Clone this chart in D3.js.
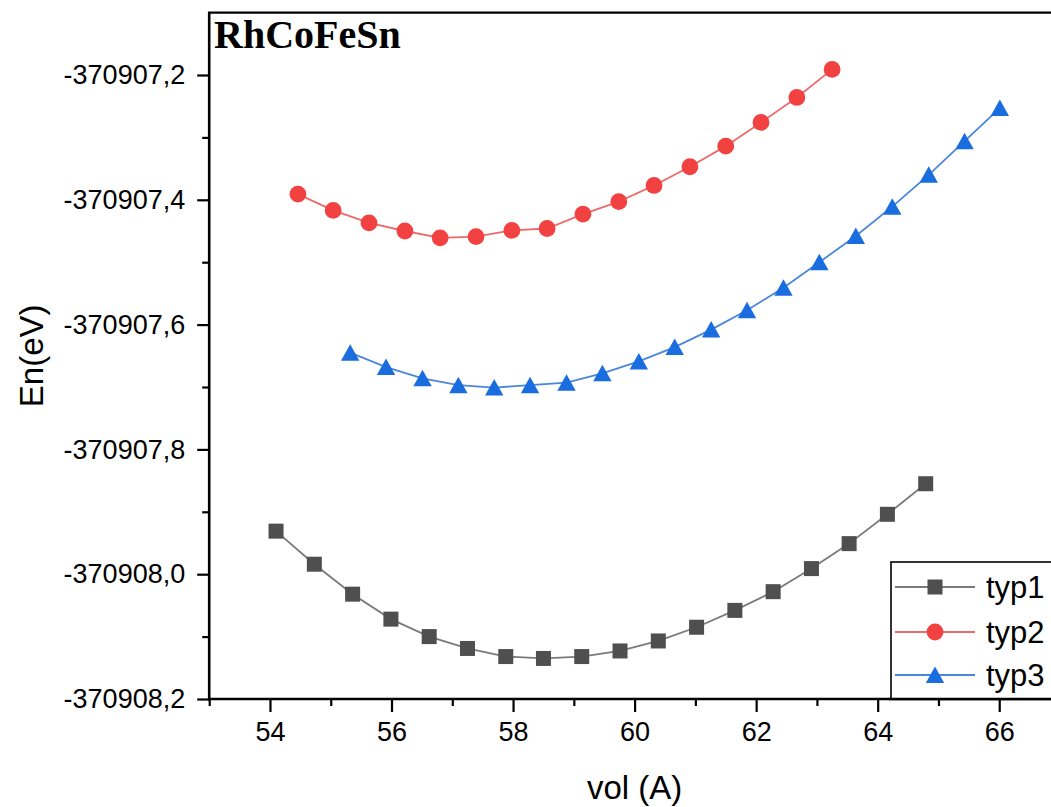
<!DOCTYPE html>
<html>
<head>
<meta charset="utf-8">
<script src="https://cdn.jsdelivr.net/npm/d3@7"></script>
<style>
  html, body { margin: 0; padding: 0; background: #fff; }
  svg { display: block; }
</style>
</head>
<body>
<svg id="chart" width="1051" height="807"></svg>
<script>
// ---------------- data ----------------
const seriesNames = ["typ1", "typ2", "typ3"];

const typ1Vol = [54.10, 54.73, 55.36, 55.99, 56.62, 57.25, 57.88, 58.50, 59.13, 59.76, 60.39, 61.02, 61.65, 62.28, 62.91, 63.53, 64.16, 64.79];
const typ1En  = [-370907.931, -370907.984, -370908.032, -370908.072, -370908.100, -370908.119, -370908.132, -370908.135, -370908.132,
                 -370908.123, -370908.107, -370908.085, -370908.058, -370908.028, -370907.991, -370907.951, -370907.904, -370907.855];

const typ2Vol = [54.46, 55.04, 55.63, 56.22, 56.80, 57.39, 57.98, 58.56, 59.15, 59.74, 60.32, 60.91, 61.50, 62.08, 62.67, 63.25];
const typ2En  = [-370907.391, -370907.417, -370907.437, -370907.450, -370907.461, -370907.459, -370907.449, -370907.446,
                 -370907.423, -370907.403, -370907.377, -370907.347, -370907.314, -370907.276, -370907.236, -370907.191];

const typ3Vol = [55.32, 55.91, 56.51, 57.10, 57.69, 58.28, 58.88, 59.47, 60.07, 60.66, 61.26, 61.85, 62.45, 63.04, 63.64, 64.24, 64.84, 65.43, 66.01];
const typ3En  = [-370907.645, -370907.668, -370907.686, -370907.697, -370907.701, -370907.697, -370907.693, -370907.678,
                 -370907.659, -370907.636, -370907.608, -370907.577, -370907.541, -370907.500, -370907.458, -370907.411,
                 -370907.360, -370907.306, -370907.253];

const xMajorTicks = [54, 56, 58, 60, 62, 64, 66];
const xMinorTicks = [53, 55, 57, 59, 61, 63, 65, 67];
const yMajorTicks = [-370908.2, -370908.0, -370907.8, -370907.6, -370907.4, -370907.2];
const yMinorTicks = [-370908.1, -370907.9, -370907.7, -370907.5, -370907.3];

const chartTitle = "RhCoFeSn";
const xTitle = "vol (A)";
const yTitle = "En(eV)";

// ---------------- layout / style ----------------
const colors = { typ1: "#4f4f4f", typ2: "#f24141", typ3: "#1a6ddf" };
const lineColors = { typ1: "#7a7a7a", typ2: "#ec6a6a", typ3: "#4a87dc" };
const symbols = { typ1: "square", typ2: "circle", typ3: "triangle" };

const pLeft = 209.2, pRight = 1060, pTop = 12.6, pBottom = 699;

const svg = d3.select("#chart");
const x = d3.scaleLinear().domain([53, 67]).range([pLeft, pRight]);
const y = d3.scaleLinear().domain([-370908.2, -370907.1]).range([pBottom, pTop]);

const locale = d3.formatLocale({ decimal: ",", thousands: "", grouping: [3], currency: ["", ""], minus: "-" });
const fmtY = locale.format(".1f");

const font = "'Liberation Sans', Arial, Helvetica, sans-serif";

// ---------------- axes ----------------
function styleAxis(g, fs) {
  g.select(".domain").remove();
  g.selectAll("line").attr("stroke", "#000").attr("stroke-width", 2.2);
  g.selectAll("text").attr("fill", "#000").style("font-family", font).style("font-size", fs + "px");
}

// x minor
svg.append("g").attr("transform", `translate(0,${pBottom})`)
  .call(d3.axisBottom(x).tickValues(xMinorTicks).tickSize(7).tickSizeOuter(0).tickFormat(""))
  .call(g => styleAxis(g, 27));
// x major
svg.append("g").attr("transform", `translate(0,${pBottom})`)
  .call(d3.axisBottom(x).tickValues(xMajorTicks).tickSize(13).tickSizeOuter(0).tickPadding(10).tickFormat(d3.format("d")))
  .call(g => styleAxis(g, 27));
// y minor
svg.append("g").attr("transform", `translate(${pLeft},0)`)
  .call(d3.axisLeft(y).tickValues(yMinorTicks).tickSize(7).tickSizeOuter(0).tickFormat(""))
  .call(g => styleAxis(g, 27));
// y major
svg.append("g").attr("transform", `translate(${pLeft},0)`)
  .call(d3.axisLeft(y).tickValues(yMajorTicks).tickSize(12).tickSizeOuter(0).tickPadding(12).tickFormat(fmtY))
  .call(g => styleAxis(g, 27));

// axis lines and top border
svg.append("line").attr("x1", pLeft).attr("x2", pLeft).attr("y1", pTop).attr("y2", pBottom + 1.2)
  .attr("stroke", "#000").attr("stroke-width", 2.6);
svg.append("line").attr("x1", pLeft - 1.2).attr("x2", pRight).attr("y1", pBottom).attr("y2", pBottom)
  .attr("stroke", "#000").attr("stroke-width", 2.6);
svg.append("line").attr("x1", pLeft - 1.2).attr("x2", pRight).attr("y1", pTop).attr("y2", pTop)
  .attr("stroke", "#000").attr("stroke-width", 2.4);

// titles
svg.append("text").attr("x", (pLeft + pRight) / 2).attr("y", 799)
  .attr("text-anchor", "middle").style("font-family", font).style("font-size", "33px").text(xTitle);
svg.append("text").attr("transform", `translate(43,${(pTop + pBottom) / 2}) rotate(-90)`)
  .attr("text-anchor", "middle").style("font-family", font).style("font-size", "33px").text(yTitle);
svg.append("text").attr("x", 214).attr("y", 48)
  .style("font-family", "'Liberation Serif', 'Times New Roman', serif").style("font-weight", "bold")
  .style("font-size", "40px").text(chartTitle);

// ---------------- markers ----------------
function drawMarker(sel, kind, color) {
  if (kind === "square") {
    sel.append("rect").attr("x", -7.5).attr("y", -7.5).attr("width", 15).attr("height", 15).attr("fill", color);
  } else if (kind === "circle") {
    sel.append("circle").attr("r", 8.4).attr("fill", color);
  } else {
    sel.append("path").attr("d", "M0,-8.5L9.2,8L-9.2,8Z").attr("fill", color);
  }
}

const series = [
  { name: "typ1", vol: typ1Vol, en: typ1En },
  { name: "typ2", vol: typ2Vol, en: typ2En },
  { name: "typ3", vol: typ3Vol, en: typ3En }
];

const line = d3.line().x(d => x(d[0])).y(d => y(d[1]));

series.forEach(s => {
  const pts = s.vol.map((v, i) => [v, s.en[i]]);
  svg.append("path").datum(pts).attr("d", line)
    .attr("fill", "none").attr("stroke", lineColors[s.name]).attr("stroke-width", 1.8);
  const g = svg.append("g");
  pts.forEach(p => {
    const m = g.append("g").attr("transform", `translate(${x(p[0])},${y(p[1])})`);
    drawMarker(m, symbols[s.name], colors[s.name]);
  });
});

// ---------------- legend ----------------
const legX = 891, legY = 562;
svg.append("rect").attr("x", legX).attr("y", legY).attr("width", 200).attr("height", pBottom - legY)
  .attr("fill", "#fff").attr("stroke", "#000").attr("stroke-width", 1.6);
const legRowY = [587, 632, 675];
seriesNames.forEach((n, i) => {
  const ry = legRowY[i];
  svg.append("line").attr("x1", 895).attr("x2", 975).attr("y1", ry).attr("y2", ry)
    .attr("stroke", lineColors[n]).attr("stroke-width", 1.8);
  const m = svg.append("g").attr("transform", `translate(935,${ry})`);
  drawMarker(m, symbols[n], colors[n]);
  svg.append("text").attr("x", 986).attr("y", ry + 11)
    .style("font-family", font).style("font-size", "31px").text(n);
});
// redraw bottom axis over legend edge
svg.append("line").attr("x1", legX - 2).attr("x2", pRight).attr("y1", pBottom).attr("y2", pBottom)
  .attr("stroke", "#000").attr("stroke-width", 2.6);
</script>
</body>
</html>
